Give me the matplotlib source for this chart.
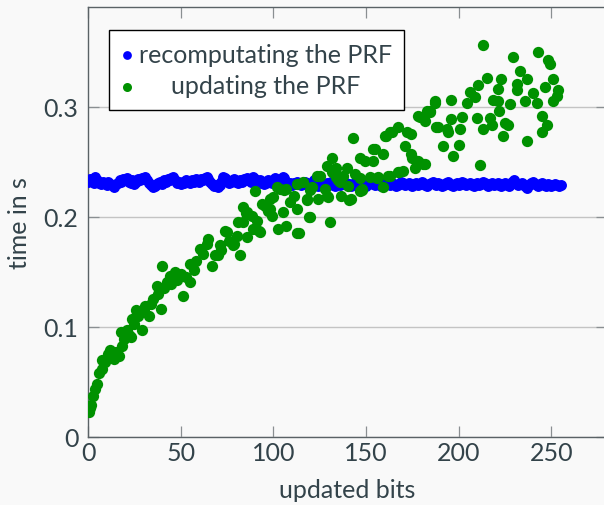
import numpy as np
import matplotlib
matplotlib.use('Agg')
import matplotlib.pyplot as plt

# recomputing the PRF: one value per number of updated bits (0..255)
recompute_bits = list(range(256))
recompute_time = [
    .232, .234, .233, .231, .236, .233, .231, .230, .232, .231, .229, .232, .230, .229, .227, .230,
    .231, .233, .232, .234, .233, .235, .232, .231, .233, .230, .232, .234, .233, .235, .234, .236,
    .233, .231, .229, .227, .228, .230, .231, .232, .230, .233, .232, .234, .233, .235, .236, .233,
    .231, .232, .230, .232, .231, .233, .232, .231, .233, .232, .234, .233, .232, .234, .233, .235,
    .236, .234, .232, .230, .228, .229, .227, .229, .232, .236, .235, .233, .231, .232, .233, .234,
    .232, .231, .233, .232, .234, .233, .235, .233, .232, .236, .234, .232, .231, .233, .232, .230,
    .231, .233, .232, .231, .233, .235, .233, .232, .234, .236, .235, .232, .230, .231, .229, .231,
    .230, .232, .231, .229, .230, .232, .231, .230, .229, .231, .233, .230, .228, .229, .231, .230,
    .229, .231, .230, .232, .229, .228, .230, .231, .229, .230, .232, .231, .229, .230, .228, .230,
    .231, .229, .230, .232, .231, .229, .228, .230, .231, .232, .230, .229, .231, .230, .228, .229,
    .231, .232, .230, .229, .231, .230, .228, .229, .230, .232, .231, .229, .230, .231, .229, .228,
    .230, .231, .229, .230, .232, .231, .229, .228, .230, .231, .232, .230, .229, .231, .230, .228,
    .229, .231, .232, .230, .229, .228, .230, .231, .229, .230, .232, .231, .229, .230, .231, .229,
    .228, .230, .231, .229, .230, .232, .231, .229, .228, .230, .231, .229, .230, .231, .229, .228,
    .230, .231, .229, .228, .230, .232, .233, .231, .229, .230, .231, .229, .228, .226, .229, .231,
    .232, .230, .229, .228, .230, .231, .229, .228, .230, .229, .228, .229, .230, .229, .228, .229,
]

# updating the PRF
update_bits = [
    0.5, 1, 1.6, 2.8, 4, 4.9, 6, 7.4, 7.5, 9, 11, 12, 14, 15, 16.7, 18, 18.5, 19.5, 21, 22,
    23, 24, 25, 26, 27, 29, 30, 31, 33, 34, 35, 37, 38, 39.5, 40, 41, 42.5, 44, 45, 47,
    48, 50, 51, 53, 55, 55, 57, 58, 60.4, 62, 64, 65, 67, 68.5, 70, 71, 72, 74, 75, 76,
    78, 79, 80.4, 81, 82, 83.6, 83.6, 85, 85.8, 86, 88.5, 89, 90, 91, 92, 92.8, 94, 95.5, 97, 98,
    98, 99, 100, 102, 102.5, 103.6, 105, 106, 107, 107, 109, 111, 112.8, 112.8, 113, 114, 116, 118, 118, 119,
    120, 120, 121, 123.5, 124, 125, 128, 129, 129, 129.5, 130.6, 131.7, 131.7, 134, 134, 135, 136, 136.5, 137.6, 139.8,
    140, 141, 142, 143, 144, 147, 147, 147, 148, 148, 149.5, 152, 154, 154, 155, 156, 156.5, 159, 159, 160,
    161, 162, 163, 163, 164, 167, 167, 168, 170, 171, 172, 174, 174, 175, 176.5, 178, 178, 179, 181, 182,
    182, 183, 184.6, 184.6, 187, 187, 188, 189, 191.6, 193.6, 194, 196, 196, 197, 200, 200.6, 202, 204.5, 206, 209,
    210, 210.5, 211.5, 213, 213, 215, 217, 218, 218.6, 221, 221, 222, 223, 224, 225, 226.6, 227.7, 229.4, 231.5, 231.5,
    233, 236, 237, 237, 240, 242, 243, 245, 245, 246.6, 247.7, 248, 249, 251, 251, 253, 253.6,
]
update_time = [
    .023, .026, .029, .037, .044, .048, .058, .062, .070, .068, .075, .079, .071, .077, .074, .095, .083, .089, .097, .093,
    .091, .107, .103, .115, .110, .097, .116, .119, .110, .121, .125, .137, .130, .116, .155, .135, .141, .146, .139, .150,
    .143, .148, .128, .145, .141, .157, .152, .160, .171, .166, .175, .180, .155, .165, .165, .174, .170, .187, .186, .178,
    .174, .175, .183, .195, .165, .195, .209, .203, .204, .182, .201, .189, .223, .196, .187, .186, .212, .210, .205, .207,
    .216, .201, .218, .227, .189, .225, .204, .224, .192, .225, .213, .219, .185, .207, .230, .185, .232, .215, .216, .200,
    .224, .200, .227, .237, .216, .237, .225, .219, .246, .218, .195, .253, .241, .236, .244, .233, .232, .219, .237, .244,
    .228, .215, .216, .272, .239, .223, .253, .235, .225, .224, .251, .236, .251, .262, .262, .235, .236, .227, .257, .273,
    .273, .237, .277, .237, .277, .282, .241, .241, .242, .264, .277, .275, .257, .253, .244, .292, .251, .291, .248, .287,
    .248, .296, .296, .295, .303, .305, .282, .282, .264, .280, .277, .289, .306, .255, .265, .280, .291, .303, .313, .309,
    .290, .320, .247, .356, .280, .326, .290, .283, .306, .316, .305, .296, .325, .273, .285, .283, .302, .345, .321, .315,
    .332, .305, .325, .269, .312, .303, .350, .292, .277, .318, .283, .342, .339, .325, .305, .310, .315,
]

xticks = [0, 50, 100, 150, 200, 250]
yticks = [0, 0.1, 0.2, 0.3]
ytick_labels = ['0', '0.1', '0.2', '0.3']

txt = '#33434a'
bg = '#f9f9f9'
fs = 18
plt.rcParams['font.family'] = ['Lato', 'DejaVu Sans']
plt.rcParams['text.color'] = txt

fig = plt.figure(figsize=(6.04, 5.06), dpi=100, facecolor=bg)
ax = fig.add_axes([88 / 604, 68 / 506, 519 / 604, 430.5 / 506])
ax.set_facecolor(bg)

ax.scatter(recompute_bits, recompute_time, s=62, color='#0000ff', linewidths=0,
           label='recomputating the PRF', zorder=3)
ax.scatter(update_bits, update_time, s=66, color='#009100', linewidths=0,
           label='updating the PRF', zorder=4)

ax.set_xlim(0, 280)
ax.set_ylim(0, 0.391)
ax.set_xticks(xticks)
ax.set_yticks(yticks)
ax.set_yticklabels(ytick_labels)
ax.yaxis.grid(True, color='#c4c4c4', lw=1)
ax.set_axisbelow(True)

for s in ax.spines.values():
    s.set_color('#5a6266')
    s.set_linewidth(1)
ax.tick_params(direction='in', top=True, right=True, length=8, width=0.9,
               color='#8a8f92', labelsize=fs, labelcolor=txt)
ax.tick_params(axis='x', pad=3)
ax.tick_params(axis='y', pad=7)

ax.set_xlabel('updated bits', fontsize=fs, color=txt, labelpad=10)
ax.set_ylabel('time in s', fontsize=fs, color=txt, labelpad=9)

leg = ax.legend(loc='upper left', bbox_to_anchor=(0.040, 0.945), borderaxespad=0,
                fontsize=fs, fancybox=False, edgecolor='black', framealpha=1,
                handlelength=0.45, handletextpad=0.25, borderpad=0.5,
                labelspacing=0.35, markerscale=0.8)
leg.get_frame().set_linewidth(1)

# centre the shorter legend entry under the longer one, as in the source
fig.canvas.draw()
t1, t2 = leg.get_texts()
w1 = t1.get_window_extent().width
w2 = t2.get_window_extent().width
t2.set_x((w1 - w2) / 2)

plt.savefig('out.png', dpi=100, facecolor=bg)
